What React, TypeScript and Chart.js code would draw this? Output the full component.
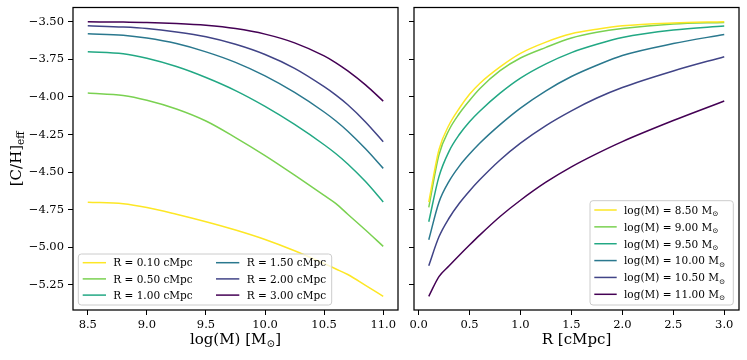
import React, { useEffect, useRef } from "react";
import { Chart, registerables } from "chart.js";
Chart.register(...registerables);

const FONT = "'DejaVu Serif', 'Liberation Serif', serif";

// ---------- DATA ----------
const massGrid = [8.5, 8.8, 9.0, 9.25, 9.5, 9.75, 10.0, 10.25, 10.5, 10.6, 10.7, 10.85, 11.0];
const radiusLabels = ["R = 0.10 cMpc", "R = 0.50 cMpc", "R = 1.00 cMpc", "R = 1.50 cMpc", "R = 2.00 cMpc", "R = 3.00 cMpc"];
const chR010 = [-4.70, -4.71, -4.735, -4.78, -4.83, -4.885, -4.948, -5.023, -5.108, -5.144, -5.181, -5.253, -5.326];
const chR050 = [-3.974, -3.99, -4.022, -4.08, -4.16, -4.27, -4.39, -4.52, -4.655, -4.71, -4.78, -4.885, -4.994];
const chR100 = [-3.70, -3.713, -3.743, -3.798, -3.871, -3.958, -4.063, -4.183, -4.318, -4.378, -4.446, -4.563, -4.698];
const chR150 = [-3.58, -3.589, -3.608, -3.645, -3.70, -3.77, -3.86, -3.97, -4.10, -4.16, -4.228, -4.345, -4.475];
const chR200 = [-3.527, -3.535, -3.545, -3.568, -3.60, -3.65, -3.718, -3.81, -3.932, -3.988, -4.052, -4.166, -4.298];
const chR300 = [-3.500, -3.502, -3.504, -3.511, -3.523, -3.545, -3.582, -3.64, -3.727, -3.773, -3.827, -3.92, -4.028];

const radiusGrid = [0.1, 0.2, 0.3, 0.4, 0.5, 0.6, 0.8, 1.0, 1.25, 1.5, 1.75, 2.0, 2.5, 3.0];
const massLabels = ["log(M) = 8.50 M⊙", "log(M) = 9.00 M⊙", "log(M) = 9.50 M⊙", "log(M) = 10.00 M⊙", "log(M) = 10.50 M⊙", "log(M) = 11.00 M⊙"];
const chM850 = [-4.70, -4.351, -4.185, -4.075, -3.982, -3.91, -3.80, -3.71, -3.635, -3.58, -3.55, -3.527, -3.508, -3.50];
const chM900 = [-4.735, -4.384, -4.218, -4.11, -4.023, -3.945, -3.825, -3.741, -3.67, -3.608, -3.57, -3.545, -3.515, -3.504];
const chM950 = [-4.83, -4.53, -4.36, -4.25, -4.165, -4.095, -3.975, -3.875, -3.78, -3.705, -3.65, -3.605, -3.555, -3.528];
const chM1000 = [-4.95, -4.70, -4.56, -4.46, -4.38, -4.308, -4.184, -4.074, -3.959, -3.864, -3.789, -3.724, -3.645, -3.584];
const chM1050 = [-5.122, -4.93, -4.805, -4.707, -4.625, -4.551, -4.419, -4.307, -4.19, -4.092, -4.007, -3.937, -3.827, -3.732];
const chM1100 = [-5.326, -5.195, -5.123, -5.053, -4.985, -4.919, -4.795, -4.687, -4.567, -4.465, -4.377, -4.297, -4.157, -4.027];

const yTickValues = [-3.5, -3.75, -4.0, -4.25, -4.5, -4.75, -5.0, -5.25];
const massTickValues = [8.5, 9.0, 9.5, 10.0, 10.5, 11.0];
const radiusTickValues = [0.0, 0.5, 1.0, 1.5, 2.0, 2.5, 3.0];

const viridis6 = ["#fde725", "#7ad151", "#22a884", "#2a788e", "#414487", "#440154"];

// ---------- helpers ----------
type Part = { t: string; sub?: boolean };
function labelParts(label: string): Part[] {
  const out: Part[] = [];
  for (const seg of label.split(/(⊙)/)) {
    if (!seg) continue;
    out.push(seg === "⊙" ? { t: seg, sub: true } : { t: seg });
  }
  return out;
}
function richWidth(ctx: CanvasRenderingContext2D, parts: Part[], size: number) {
  let w = 0;
  for (const p of parts) {
    ctx.font = `${p.sub ? size * 0.7 : size}px ${FONT}`;
    w += ctx.measureText(p.t).width;
  }
  return w;
}
function drawRich(ctx: CanvasRenderingContext2D, parts: Part[], x: number, y: number, size: number) {
  let cx = x;
  ctx.textBaseline = "alphabetic";
  ctx.textAlign = "left";
  for (const p of parts) {
    ctx.font = `${p.sub ? size * 0.7 : size}px ${FONT}`;
    ctx.fillText(p.t, cx, p.sub ? y + size * 0.22 : y);
    cx += ctx.measureText(p.t).width;
  }
}

type LegendGeom = {
  x0: number; y0: number; x1: number; y1: number;
  cols: { lineX0: number; lineX1: number; textX: number }[];
  rowY0: number; rowStep: number; nRows: number; size: number;
};

type PanelSpec = {
  xs: number[];
  series: number[][];
  labels: string[];
  xMin: number; xMax: number;
  xTicks: number[];
  showYLabels: boolean;
  yAxisWidth: number;
  padRight: number;
  xTitle: Part[];
  yTitle?: Part[];
  yTitleX?: number;
  legend: LegendGeom;
};

function zeroPad(scale: any) {
  scale.paddingTop = 0;
  scale.paddingBottom = 0;
  scale.paddingLeft = 0;
  scale.paddingRight = 0;
}

function buildConfig(spec: PanelSpec): any {
  const datasets = spec.series.map((vals, i) => ({
    label: spec.labels[i],
    data: spec.xs.map((x, j) => ({ x, y: vals[j] })),
    borderColor: viridis6[i],
    backgroundColor: viridis6[i],
    borderWidth: 1.5,
    pointRadius: 0,
    fill: false,
    cubicInterpolationMode: "monotone",
  }));

  const decor = {
    id: "decor",
    afterDatasetsDraw(chart: any) {
      const { ctx, chartArea: a } = chart;
      ctx.save();
      ctx.strokeStyle = "#000";
      ctx.lineWidth = 1.25;
      ctx.strokeRect(a.left, a.top, a.right - a.left, a.bottom - a.top);
      ctx.restore();
    },
    afterDraw(chart: any) {
      const { ctx, chartArea: a } = chart;
      ctx.save();
      ctx.fillStyle = "#000";
      const xs = 15;
      const xw = richWidth(ctx, spec.xTitle, xs);
      drawRich(ctx, spec.xTitle, (a.left + a.right) / 2 - xw / 2, 344, xs);
      if (spec.yTitle) {
        const yw = richWidth(ctx, spec.yTitle, xs);
        ctx.save();
        ctx.translate(spec.yTitleX || 20, (a.top + a.bottom) / 2);
        ctx.rotate(-Math.PI / 2);
        drawRich(ctx, spec.yTitle, -yw / 2, 0, xs);
        ctx.restore();
      }
      const L = spec.legend;
      ctx.beginPath();
      const r = 3;
      ctx.moveTo(L.x0 + r, L.y0);
      ctx.arcTo(L.x1, L.y0, L.x1, L.y1, r);
      ctx.arcTo(L.x1, L.y1, L.x0, L.y1, r);
      ctx.arcTo(L.x0, L.y1, L.x0, L.y0, r);
      ctx.arcTo(L.x0, L.y0, L.x1, L.y0, r);
      ctx.closePath();
      ctx.fillStyle = "rgba(255,255,255,0.8)";
      ctx.fill();
      ctx.strokeStyle = "#cccccc";
      ctx.lineWidth = 1;
      ctx.stroke();
      chart.data.datasets.forEach((ds: any, i: number) => {
        const col = L.cols[Math.floor(i / L.nRows)];
        const y = L.rowY0 + (i % L.nRows) * L.rowStep;
        ctx.strokeStyle = ds.borderColor;
        ctx.lineWidth = 1.5;
        ctx.beginPath();
        ctx.moveTo(col.lineX0, y);
        ctx.lineTo(col.lineX1, y);
        ctx.stroke();
        ctx.fillStyle = "#000";
        drawRich(ctx, labelParts(ds.label), col.textX, y + L.size * 0.36, L.size);
      });
      ctx.restore();
    },
  };

  return {
    type: "line",
    data: { datasets },
    options: {
      animation: false,
      responsive: false,
      devicePixelRatio: 1,
      layout: { padding: { left: 0, top: 7.5, right: spec.padRight, bottom: 0 } },
      plugins: { legend: { display: false }, tooltip: { enabled: false }, title: { display: false } },
      scales: {
        x: {
          type: "linear",
          min: spec.xMin,
          max: spec.xMax,
          afterBuildTicks: (scale: any) => {
            scale.ticks = spec.xTicks.map((v) => ({ value: v }));
          },
          afterFit: (scale: any) => {
            scale.height = 50;
            zeroPad(scale);
          },
          border: { display: false },
          grid: { drawOnChartArea: false, drawTicks: true, tickLength: 5, color: "#000", lineWidth: 1 },
          ticks: {
            color: "#000",
            padding: 3,
            maxRotation: 0,
            autoSkip: false,
            font: { family: FONT, size: 11.5 },
            callback: (v: number) => Number(v).toFixed(1),
          },
        },
        y: {
          type: "linear",
          min: -5.417,
          max: -3.405,
          afterBuildTicks: (scale: any) => {
            scale.ticks = yTickValues.map((v) => ({ value: v }));
          },
          afterFit: (scale: any) => {
            scale.width = spec.yAxisWidth;
            zeroPad(scale);
          },
          border: { display: false },
          grid: { drawOnChartArea: false, drawTicks: true, tickLength: 5, color: "#000", lineWidth: 1 },
          ticks: {
            display: spec.showYLabels,
            color: "#000",
            padding: 4,
            autoSkip: false,
            font: { family: FONT, size: 11.5 },
            callback: (v: number) => (v < 0 ? "\u2212" : "") + Math.abs(Number(v)).toFixed(2),
          },
        },
      },
    },
    plugins: [decor],
  };
}

export default function App() {
  const leftRef = useRef<HTMLCanvasElement>(null);
  const rightRef = useRef<HTMLCanvasElement>(null);

  useEffect(() => {
    const charts: Chart[] = [];
    if (leftRef.current) {
      charts.push(
        new Chart(
          leftRef.current,
          buildConfig({
            xs: massGrid,
            series: [chR010, chR050, chR100, chR150, chR200, chR300],
            labels: radiusLabels,
            xMin: 8.375,
            xMax: 11.125,
            xTicks: massTickValues,
            showYLabels: true,
            yAxisWidth: 73,
            padRight: 7,
            xTitle: [{ t: "log(M) [M" }, { t: "⊙", sub: true }, { t: "]" }],
            yTitle: [{ t: "[C/H]" }, { t: "eff", sub: true }],
            yTitleX: 20.5,
            legend: {
              x0: 78.3, y0: 254, x1: 331.7, y1: 305,
              cols: [
                { lineX0: 82.7, lineX1: 106, textX: 113.3 },
                { lineX0: 216, lineX1: 239.3, textX: 246.7 },
              ],
              rowY0: 262.7, rowStep: 16.2, nRows: 3, size: 10.5,
            },
          })
        )
      );
    }
    if (rightRef.current) {
      charts.push(
        new Chart(
          rightRef.current,
          buildConfig({
            xs: radiusGrid,
            series: [chM850, chM900, chM950, chM1000, chM1050, chM1100],
            labels: massLabels,
            xMin: -0.045,
            xMax: 3.145,
            xTicks: radiusTickValues,
            showYLabels: false,
            yAxisWidth: 9,
            padRight: 8,
            xTitle: [{ t: "R [cMpc]" }],
            legend: {
              x0: 185, y0: 200.7, x1: 328.3, y1: 305,
              cols: [{ lineX0: 189.3, lineX1: 211.7, textX: 219 }],
              rowY0: 210, rowStep: 16.86, nRows: 6, size: 10.5,
            },
          })
        )
      );
    }
    return () => charts.forEach((c) => c.destroy());
  }, []);

  return (
    <div style={{ position: "fixed", left: 0, top: 0, width: 747, height: 360, background: "#fff" }}>
      <canvas ref={leftRef} width={405} height={360} style={{ position: "absolute", left: 0, top: 0, width: 405, height: 360 }} />
      <canvas ref={rightRef} width={342} height={360} style={{ position: "absolute", left: 405, top: 0, width: 342, height: 360 }} />
    </div>
  );
}
